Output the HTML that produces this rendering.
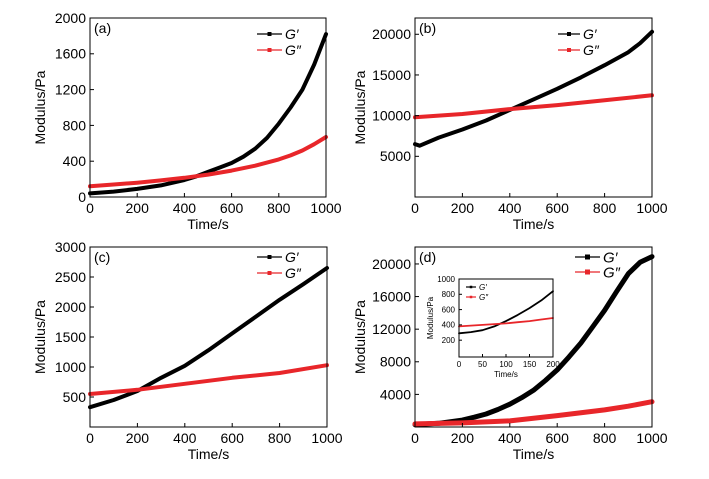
<!DOCTYPE html>
<html><head><meta charset="utf-8"><style>
body{margin:0;background:#fff}
svg{font-family:"Liberation Sans",Arial,sans-serif}
</style></head><body>
<svg id="c" width="709" height="474" xmlns="http://www.w3.org/2000/svg"></svg>
<script>
const timesA=[0,100,200,300,400,450,500,550,600,650,700,750,800,850,900,950,1000];
const gpA=[40,60,90,130,190,230,280,330,380,450,540,660,820,1000,1200,1480,1820];
const timesA2=[0,100,200,300,400,500,600,700,800,850,900,950,1000];
const gppA=[120,140,160,185,215,250,295,350,420,465,520,590,670];
const timesB=[0,20,100,200,300,400,500,600,700,800,900,950,1000];
const gpB=[6500,6300,7300,8300,9400,10700,12000,13300,14700,16200,17800,18900,20300];
const timesB2=[0,200,400,600,800,1000];
const gppB=[9800,10200,10800,11300,11900,12500];
const timesC=[0,100,200,300,400,500,600,700,800,900,1000];
const gpC=[330,450,600,820,1020,1280,1560,1840,2120,2380,2650];
const timesC2=[0,200,400,600,800,1000];
const gppC=[550,620,720,820,900,1030];
const timesD=[0,100,200,250,300,350,400,450,500,550,600,650,700,750,800,850,900,950,1000];
const gpD=[300,450,850,1200,1600,2150,2800,3600,4500,5700,7000,8600,10300,12300,14300,16600,18800,20200,20900];
const timesD2=[0,200,400,600,800,900,1000];
const gppD=[380,500,750,1400,2100,2550,3100];
const timesI=[0,25,50,75,100,125,150,175,200];
const gpI=[290,305,330,380,450,530,620,720,840];
const gppI=[380,390,400,410,420,435,450,470,490];
const xTicks=[0,200,400,600,800,1000];
const ticksA=[0,400,800,1200,1600,2000];
const ticksB=[5000,10000,15000,20000];
const ticksC=[500,1000,1500,2000,2500,3000];
const ticksD=[4000,8000,12000,16000,20000];
const ticksIx=[0,50,100,150,200];
const ticksIy=[200,400,600,800,1000];

const svg=document.getElementById('c');
const NS='http://www.w3.org/2000/svg';
function mk(tag,attrs,parent,text){const e=document.createElementNS(NS,tag);for(const k in attrs)e.setAttribute(k,attrs[k]);if(text!==undefined)e.textContent=text;(parent||svg).appendChild(e);return e;}

function panel(p){
  const g=mk('g',{},svg);
  
  
  const sx=v=>p.x0+(v-p.xmin)/(p.xmax-p.xmin)*(p.x1-p.x0);
  const sy=v=>p.y1-(v-p.ymin)/(p.ymax-p.ymin)*(p.y1-p.y0);
  const fs=p.fs;
  if(p.bg){mk('rect',{x:p.x0,y:p.y0,width:p.x1-p.x0,height:p.y1-p.y0,fill:'#fff'},g);}
  p.series.forEach(s=>{
    const pts=s.t.map((t,i)=>sx(t).toFixed(1)+','+sy(s.v[i]).toFixed(1)).join(' ');
    const pl=mk('polyline',{points:pts,fill:'none',stroke:s.c,'stroke-width':p.sw,'stroke-linejoin':'round','stroke-linecap':'round'},g);
    
    
  });
  const fr=mk('rect',{x:p.x0,y:p.y0,width:p.x1-p.x0,height:p.y1-p.y0,fill:'none',stroke:'#000','stroke-width':1},g);
  
  
  p.xt.forEach(t=>{
    const x=sx(t);
    mk('line',{x1:x,x2:x,y1:p.y1,y2:p.y1-p.tl,stroke:'#000'},g);
    const tx=mk('text',{x:x,y:p.y1+fs+2,'font-size':fs,'text-anchor':'middle'},g,t);
    
    
  });
  p.yt.forEach(t=>{
    const y=sy(t);
    mk('line',{x1:p.x0,x2:p.x0+p.tl,y1:y,y2:y,stroke:'#000'},g);
    const tx=mk('text',{x:p.x0-4,y:y+fs*0.35,'font-size':fs,'text-anchor':'end'},g,t);
    
    
  });
  const xl=mk('text',{x:(p.x0+p.x1)/2,y:p.y1+fs*2+4,'font-size':fs,'text-anchor':'middle'},g,'Time/s');
  
  
  const yl=mk('text',{x:0,y:0,'font-size':fs,'text-anchor':'middle',transform:`translate(${p.ylx},${(p.y0+p.y1)/2}) rotate(-90)`},g,'Modulus/Pa');
  
  
  if(p.label){const l=mk('text',{x:p.x0+4,y:p.y0+15,'font-size':14},g,p.label);
    
    }
  const L=p.leg;
  p.series.forEach((s,i)=>{
    const y=L.y+i*L.dy;
    const le=mk('g',{},g);
    
    
    mk('line',{x1:L.x,x2:L.x+L.w,y1:y,y2:y,stroke:s.c,'stroke-width':1.2},le);
    mk('rect',{x:L.x+L.w/2-L.m/2,y:y-L.m/2,width:L.m,height:L.m,fill:s.c},le);
    mk('text',{x:L.x+L.w+3,y:y+L.fs*0.35,'font-size':L.fs,'font-style':'italic',fill:'#000'},le,s.lab);
  });
}
const blk='#000',red='#e8262a';
panel({id:'a',x0:90,x1:326,y0:18,y1:197,xmin:0,xmax:1000,ymin:0,ymax:2000,xt:xTicks,yt:ticksA,fs:14,tl:4,sw:4,ylx:45,label:'(a)',
  series:[{name:'g-prime-a',t:timesA,v:gpA,c:blk,lab:'G\u2032'},{name:'g-double-prime-a',t:timesA2,v:gppA,c:red,lab:'G\u2033'}],
  leg:{x:257,y:34,dy:16,w:25,m:4,fs:14}});
panel({id:'b',x0:415,x1:652,y0:18,y1:197,xmin:0,xmax:1000,ymin:0,ymax:22000,xt:xTicks,yt:ticksB,fs:14,tl:4,sw:4,ylx:365,label:'(b)',
  series:[{name:'g-prime-b',t:timesB,v:gpB,c:blk,lab:'G\u2032'},{name:'g-double-prime-b',t:timesB2,v:gppB,c:red,lab:'G\u2033'}],
  leg:{x:558,y:34,dy:16,w:22,m:4,fs:14}});
panel({id:'c',x0:90,x1:327,y0:247,y1:427,xmin:0,xmax:1000,ymin:0,ymax:3000,xt:xTicks,yt:ticksC,fs:14,tl:4,sw:4,ylx:45,label:'(c)',
  series:[{name:'g-prime-c',t:timesC,v:gpC,c:blk,lab:'G\u2032'},{name:'g-double-prime-c',t:timesC2,v:gppC,c:red,lab:'G\u2033'}],
  leg:{x:257,y:257,dy:16,w:25,m:4,fs:14}});
panel({id:'d',x0:415,x1:652,y0:247,y1:427,xmin:0,xmax:1000,ymin:0,ymax:22080,xt:xTicks,yt:ticksD,fs:14,tl:4,sw:5,ylx:365,label:'(d)',
  series:[{name:'g-prime-d',t:timesD,v:gpD,c:blk,lab:'G\u2032'},{name:'g-double-prime-d',t:timesD2,v:gppD,c:red,lab:'G\u2033'}],
  leg:{x:575,y:257,dy:15,w:25,m:5,fs:15}});
panel({id:'inset',x0:459,x1:553,y0:279,y1:357,xmin:0,xmax:200,ymin:-20,ymax:1000,xt:ticksIx,yt:ticksIy,fs:8,tl:3,sw:1.8,ylx:433,label:null,bg:true,
  series:[{name:'g-prime-inset',t:timesI,v:gpI,c:blk,lab:'G\u2032'},{name:'g-double-prime-inset',t:timesI,v:gppI,c:red,lab:'G\u2033'}],
  leg:{x:466,y:287,dy:10,w:10,m:2.5,fs:8}});
</script>
</body></html>
